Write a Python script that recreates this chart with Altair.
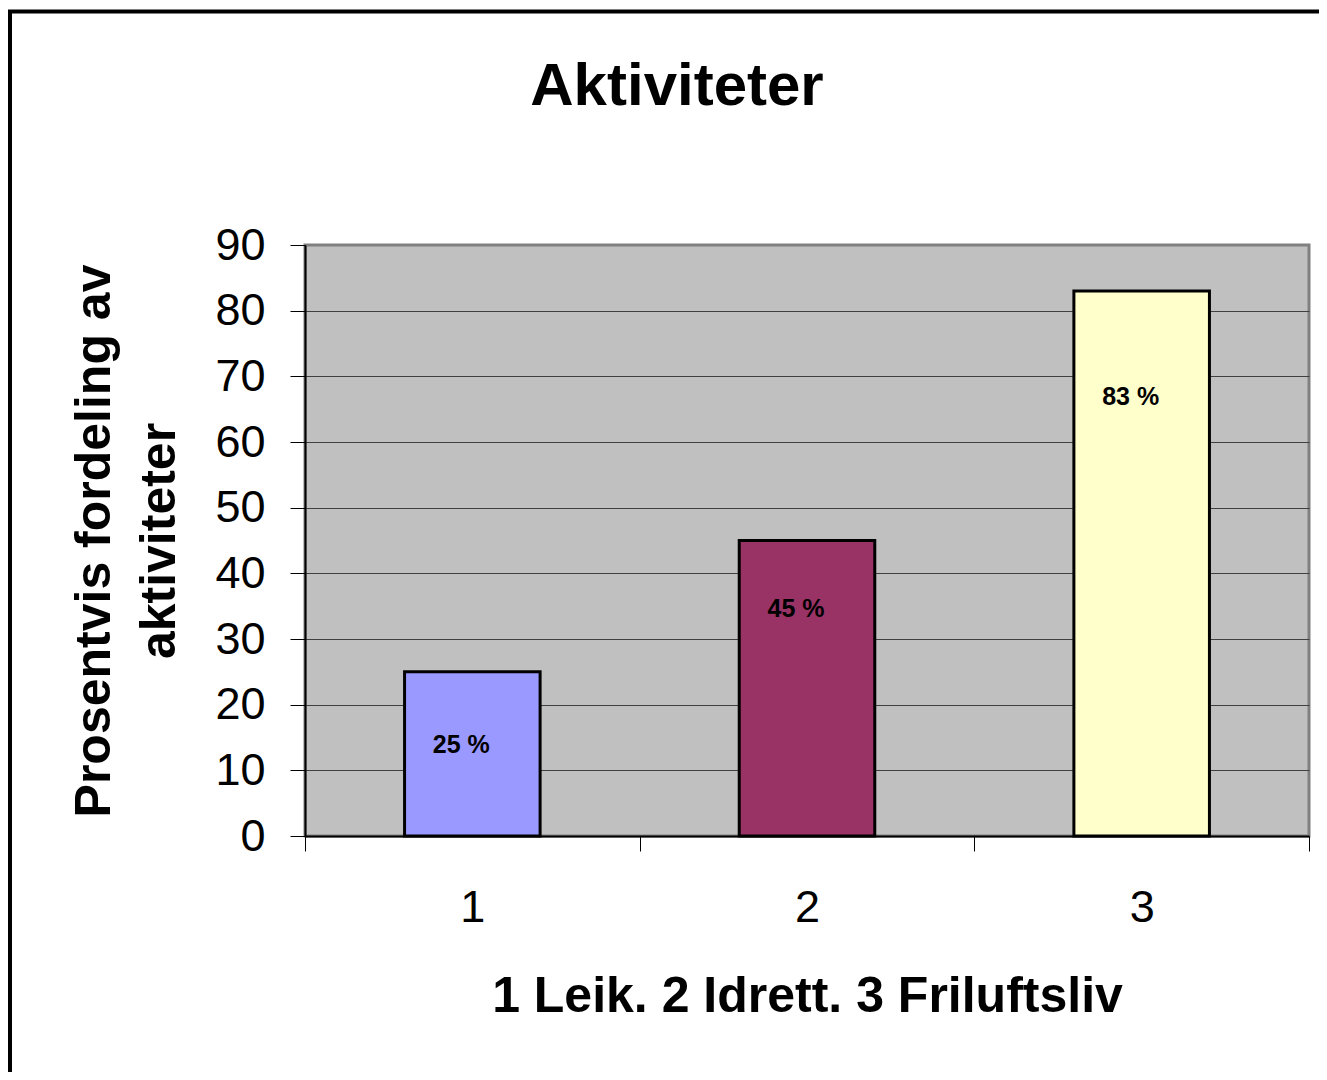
import altair as alt
import pandas as pd

categories = ["1", "2", "3"]
values = [25, 45, 83]
label_pos = [13.9, 34.6, 66.9]
bar_colors = ["#9999FF", "#993366", "#FFFFCC"]
y_ticks = [0, 10, 20, 30, 40, 50, 60, 70, 80, 90]

df = pd.DataFrame({"cat": categories, "value": values, "label_pos": label_pos})

FONT = "Liberation Sans"

base = alt.Chart(df)

x_enc = alt.X(
    "cat:O",
    scale=alt.Scale(paddingInner=0, paddingOuter=0),
    axis=alt.Axis(
        title="1 Leik. 2 Idrett. 3 Friluftsliv",
        labelAngle=0,
        tickBand="extent",
        tickSize=15,
        tickColor="black",
        tickWidth=1,
        domainColor="black",
        domainWidth=2,
        labelFontSize=45,
        labelFont=FONT,
        labelColor="black",
        labelPadding=34,
        titleFontSize=50,
        titleFont=FONT,
        titleFontWeight="bold",
        titleColor="black",
        titlePadding=41,
        grid=False,
    ),
)

bars = base.mark_bar(stroke="black", strokeWidth=3, width=alt.RelativeBandSize(0.405)).encode(
    x=x_enc,
    y=alt.Y(
        "value:Q",
        scale=alt.Scale(domain=[0, 90], nice=False),
        axis=alt.Axis(
            title=["Prosentvis fordeling av", "aktiviteter"],
            values=y_ticks,
            tickSize=15,
            tickColor="black",
            tickWidth=1,
            domainColor="black",
            domainWidth=2,
            labelFontSize=45,
            labelFont=FONT,
            labelColor="black",
            labelPadding=25,
            titleFontSize=50,
            titleFont=FONT,
            titleFontWeight="bold",
            titleColor="black",
            titlePadding=30,
            titleLineHeight=65,
            grid=True,
            gridColor=alt.condition(alt.datum.value == 90, alt.value("#808080"), alt.value("#404040")),
            gridWidth=1,
        ),
    ),
    color=alt.Color(
        "cat:N",
        scale=alt.Scale(domain=categories, range=bar_colors),
        legend=None,
    ),
)

labels = base.transform_calculate(
    label="datum.value + ' %'"
).mark_text(
    font=FONT, fontSize=25, fontWeight="bold", color="black", dx=-11, baseline="middle"
).encode(
    x=alt.X("cat:O"),
    y=alt.Y("label_pos:Q"),
    text="label:N",
)

frame_df = pd.DataFrame({"k": [0]})
frame = alt.Chart(frame_df).mark_rect(
    filled=False, stroke="black", strokeWidth=4, clip=False
).encode(
    x=alt.value(-295),
    x2=alt.value(1100),
    y=alt.value(-233.5),
    y2=alt.value(900),
)

chart = alt.layer(bars, labels, frame).properties(
    width=1004,
    height=591,
    background="white",
    title=alt.Title(
        "Aktiviteter",
        fontSize=60,
        font=FONT,
        fontWeight="bold",
        color="black",
        anchor="middle",
        frame="group",
        dx=-130,
        baseline="alphabetic",
        offset=-155,
    ),
    autosize=alt.AutoSizeParams(type="none"),
    padding={"left": 297, "top": 237, "right": 10, "bottom": 236},
).configure_view(
    fill="#C0C0C0",
    stroke="#808080",
    strokeWidth=3,
)

chart.save("out.html", embed_options={"renderer": "svg", "actions": False})
